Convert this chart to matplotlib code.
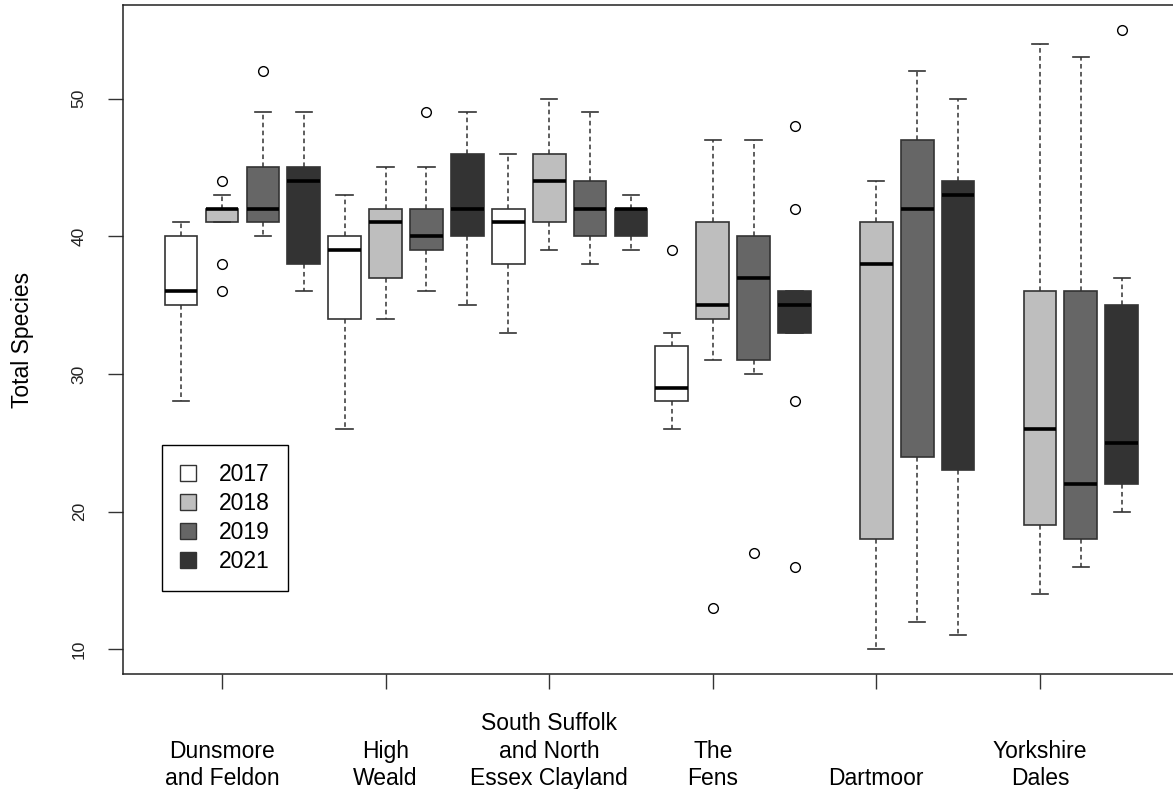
import matplotlib
matplotlib.use("Agg")
import matplotlib.pyplot as plt
from matplotlib.patches import Patch
from matplotlib.transforms import blended_transform_factory

plt.rcParams['font.family'] = ['Liberation Sans', 'DejaVu Sans']

# regions on the x axis and survey years
regions = ["Dunsmore\nand Feldon", "High\nWeald", "South Suffolk\nand North\nEssex Clayland",
           "The\nFens", "Dartmoor", "Yorkshire\nDales"]
years = ["2017", "2018", "2019", "2021"]
colours = ["#ffffff", "#bebebe", "#666666", "#333333"]

# five-number summaries per year, one value per region (None = no data)
whis_lo = {
    "2017": [28, 26, 33, 26, None, None],
    "2018": [41, 34, 39, 31, 10, 14],
    "2019": [40, 36, 38, 30, 12, 16],
    "2021": [36, 35, 39, 33, 11, 20],
}
q1 = {
    "2017": [35, 34, 38, 28, None, None],
    "2018": [41, 37, 41, 34, 18, 19],
    "2019": [41, 39, 40, 31, 24, 18],
    "2021": [38, 40, 40, 33, 23, 22],
}
median = {
    "2017": [36, 39, 41, 29, None, None],
    "2018": [42, 41, 44, 35, 38, 26],
    "2019": [42, 40, 42, 37, 42, 22],
    "2021": [44, 42, 42, 35, 43, 25],
}
q3 = {
    "2017": [40, 40, 42, 32, None, None],
    "2018": [42, 42, 46, 41, 41, 36],
    "2019": [45, 42, 44, 40, 47, 36],
    "2021": [45, 46, 42, 36, 44, 35],
}
whis_hi = {
    "2017": [41, 43, 46, 33, None, None],
    "2018": [43, 45, 50, 47, 44, 54],
    "2019": [49, 45, 49, 47, 52, 53],
    "2021": [49, 49, 43, 36, 50, 37],
}
outliers = {
    "2017": [[], [], [], [39], [], []],
    "2018": [[44, 38, 36], [], [], [13], [], []],
    "2019": [[52], [49], [], [17], [], []],
    "2021": [[], [], [], [48, 42, 28, 16], [], [55]],
}

W, H = 1173, 789
fig = plt.figure(figsize=(W / 100, H / 100), dpi=100)
ax = fig.add_axes([122.6 / W, 1 - 674 / H, (1181.4 - 122.6) / W, (674 - 5) / H])

stats, positions, faces = [], [], []
for g in range(len(regions)):
    for k, y in enumerate(years):
        if median[y][g] is None:
            continue
        stats.append(dict(med=median[y][g], q1=q1[y][g], q3=q3[y][g],
                          whislo=whis_lo[y][g], whishi=whis_hi[y][g],
                          fliers=outliers[y][g]))
        positions.append(4 * g + k + 1)
        faces.append(colours[k])

bp = ax.bxp(stats, positions=positions, widths=0.8, capwidths=0.4,
            patch_artist=True, manage_ticks=False,
            boxprops=dict(edgecolor="#333333", linewidth=1.2),
            whiskerprops=dict(color="#333333", linewidth=1.1, linestyle=(0, (3, 2.2))),
            capprops=dict(color="#333333", linewidth=1.2),
            medianprops=dict(color="black", linewidth=2.6),
            flierprops=dict(marker="o", markersize=7, markerfacecolor="none",
                            markeredgecolor="black", markeredgewidth=1.0))
for box, fc in zip(bp["boxes"], faces):
    box.set_facecolor(fc)

ax.set_xlim(-0.43, 25.46)
ax.set_ylim(8.2, 56.8)

ax.set_yticks([10, 20, 30, 40, 50])
ax.tick_params(axis="y", length=10.8, width=1, color="#333333", pad=15,
               labelsize=12.5, labelcolor="#222222", labelrotation=90)
for lab in ax.get_yticklabels():
    lab.set_verticalalignment("center")

tick_pos = [4 * g + 2 for g in range(len(regions))]
ax.set_xticks(tick_pos)
ax.set_xticklabels([""] * len(tick_pos))
ax.tick_params(axis="x", length=10.8, width=1, color="#333333")

for s in ax.spines.values():
    s.set_color("#222222")
    s.set_linewidth(1.1)

trans = blended_transform_factory(ax.transData, fig.transFigure)
for p, name in zip(tick_pos, regions):
    ax.text(p, 1 - 790 / H, name, transform=trans, ha="center", va="bottom",
            fontsize=16.5, linespacing=1.24, clip_on=False)

fig.text(22 / W, 1 - 340 / H, "Total Species", rotation=90, ha="center",
         va="center", fontsize=16.5)

handles = [Patch(facecolor=c, edgecolor="#333333", linewidth=1) for c in colours]
leg = fig.legend(handles, years, loc="upper left",
                 bbox_to_anchor=(162 / W, 1 - 445 / H), borderaxespad=0,
                 fontsize=16.5, handlelength=0.7, handleheight=0.7,
                 handletextpad=1.0, borderpad=0.78, labelspacing=0.27,
                 fancybox=False, framealpha=1, edgecolor="black")
leg.get_frame().set_linewidth(1.0)

fig.savefig("out.png", dpi=100)
